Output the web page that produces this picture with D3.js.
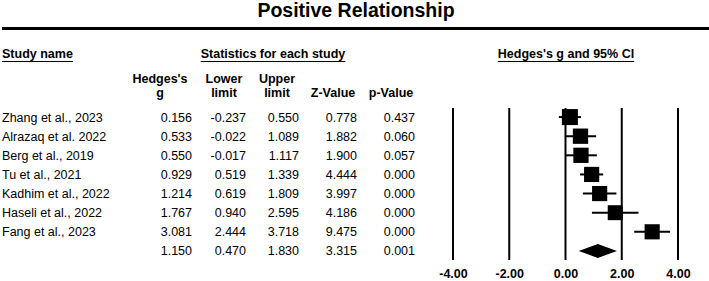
<!DOCTYPE html>
<html>
<head>
<meta charset="utf-8">
<script src="https://cdn.jsdelivr.net/npm/d3@7"></script>
<style>
  body { margin: 0; background: #fff; }
  svg text { font-family: "Liberation Sans", Arial, sans-serif; fill: #000; }
</style>
</head>
<body>
<div id="chart"></div>
<script>
// study data
var studies  = ["Zhang et al., 2023", "Alrazaq et al. 2022", "Berg et al., 2019", "Tu et al., 2021",
                "Kadhim et al., 2022", "Haseli et al., 2022", "Fang et al., 2023"];
var hedgesG  = [0.156, 0.533, 0.550, 0.929, 1.214, 1.767, 3.081];
var lowerLim = [-0.237, -0.022, -0.017, 0.519, 0.619, 0.940, 2.444];
var upperLim = [0.550, 1.089, 1.117, 1.339, 1.809, 2.595, 3.718];
var zValues  = [0.778, 1.882, 1.900, 4.444, 3.997, 4.186, 9.475];
var pValues  = [0.437, 0.060, 0.057, 0.000, 0.000, 0.000, 0.000];
var weights  = [15.6, 14.3, 14.2, 14.0, 14.0, 13.6, 14.0]; // relative

var summary  = { g: 1.150, lower: 0.470, upper: 1.830, z: 3.315, p: 0.001 };
var axisTicks = [-4, -2, 0, 2, 4];

var width = 709, height = 281;

// plain hyphen for negatives, like the original software output
var fmt3 = function(d) { return d3.format(".3f")(d).replace("\u2212", "-"); };
var fmt2 = function(d) { return d3.format(".2f")(d).replace("\u2212", "-"); };

var svg = d3.select("#chart").append("svg")
            .attr("width", width)
            .attr("height", height);

// title + rule
svg.append("text")
   .attr("x", 356).attr("y", 17)
   .attr("text-anchor", "middle")
   .style("font-size", "19.5px").style("font-weight", "bold")
   .text("Positive Relationship");

svg.append("line")
   .attr("x1", 2).attr("x2", width).attr("y1", 28.5).attr("y2", 28.5)
   .attr("stroke", "#000").attr("stroke-width", 3);

// underlined section headers
function underlined(txt, x, anchor) {
    var t = svg.append("text")
               .attr("x", x).attr("y", 58)
               .attr("text-anchor", anchor)
               .style("font-size", "12.5px").style("font-weight", "bold")
               .text(txt);
    var bb = t.node().getBBox();
    svg.append("line")
       .attr("x1", bb.x).attr("x2", bb.x + bb.width)
       .attr("y1", 61.5).attr("y2", 61.5)
       .attr("stroke", "#000").attr("stroke-width", 1.2);
}
underlined("Study name", 2, "start");
underlined("Statistics for each study", 273, "middle");
underlined("Hedges's g and 95% CI", 566, "middle");

// column definitions (right edge of the numbers)
var cols = [
  { head: ["Hedges's", "g"],     right: 192, mid: 160, vals: hedgesG,  s: summary.g },
  { head: ["Lower", "limit"],    right: 246, mid: 224, vals: lowerLim, s: summary.lower },
  { head: ["Upper", "limit"],    right: 299, mid: 277, vals: upperLim, s: summary.upper },
  { head: ["", "Z-Value"],       right: 357, mid: 333, vals: zValues,  s: summary.z },
  { head: ["", "p-Value"],       right: 415, mid: 391, vals: pValues,  s: summary.p }
];

cols.forEach(function(c) {
    c.head.forEach(function(h, i) {
        svg.append("text")
           .attr("x", c.mid).attr("y", 83 + i * 14)
           .attr("text-anchor", "middle")
           .style("font-size", "12.5px").style("font-weight", "bold")
           .text(h);
    });
});

var y = d3.scaleBand()
          .domain(d3.range(studies.length + 1))
          .range([107.5, 260.5]);

var rowY = function(i) { return y(i) + y.bandwidth() / 2; };

// study names
svg.selectAll(".name")
   .data(studies)
   .enter().append("text")
   .attr("class", "name")
   .attr("x", 2)
   .attr("y", function(d, i) { return rowY(i) + 4.5; })
   .style("font-size", "12.5px")
   .text(function(d) { return d; });

// numbers
cols.forEach(function(c) {
    var vals = c.vals.concat([c.s]);
    svg.selectAll(null)
       .data(vals)
       .enter().append("text")
       .attr("x", c.right)
       .attr("y", function(d, i) { return rowY(i) + 4.5; })
       .attr("text-anchor", "end")
       .style("font-size", "12.5px")
       .text(fmt3);
});

// forest plot
var x = d3.scaleLinear()
          .domain([-4, 4])
          .range([453, 678]);

svg.selectAll(".grid")
   .data(axisTicks)
   .enter().append("line")
   .attr("x1", function(d) { return x(d); })
   .attr("x2", function(d) { return x(d); })
   .attr("y1", 108).attr("y2", 260)
   .attr("stroke", "#000").attr("stroke-width", 2);

var axis = svg.append("g")
              .attr("transform", "translate(0,278)")
              .call(d3.axisBottom(x)
                      .tickValues(axisTicks)
                      .tickSize(0)
                      .tickFormat(fmt2));
axis.select(".domain").remove();
axis.selectAll("text")
    .attr("dy", 0)
    .attr("y", 0)
    .style("font-family", "'Liberation Sans', Arial, sans-serif")
    .style("font-size", "12.5px").style("font-weight", "bold")
    .attr("fill", "#000");

// CI whiskers
svg.selectAll(".ci")
   .data(hedgesG)
   .enter().append("line")
   .attr("x1", function(d, i) { return x(lowerLim[i]); })
   .attr("x2", function(d, i) { return x(upperLim[i]); })
   .attr("y1", function(d, i) { return rowY(i); })
   .attr("y2", function(d, i) { return rowY(i); })
   .attr("stroke", "#000").attr("stroke-width", 2);

// weighted squares
var size = d3.scaleSqrt()
             .domain([0, d3.max(weights)])
             .range([0, 16]);

svg.selectAll(".box")
   .data(hedgesG)
   .enter().append("rect")
   .attr("x", function(d, i) { return x(d) - size(weights[i]) / 2; })
   .attr("y", function(d, i) { return rowY(i) - size(weights[i]) / 2; })
   .attr("width", function(d, i) { return size(weights[i]); })
   .attr("height", function(d, i) { return size(weights[i]); })
   .attr("fill", "#000");

// summary diamond
var sy = rowY(studies.length);
svg.append("path")
   .attr("d", "M" + x(summary.lower) + "," + sy +
              "L" + x(summary.g) + "," + (sy - 7) +
              "L" + x(summary.upper) + "," + sy +
              "L" + x(summary.g) + "," + (sy + 7) + "Z")
   .attr("fill", "#000");
</script>
</body>
</html>
